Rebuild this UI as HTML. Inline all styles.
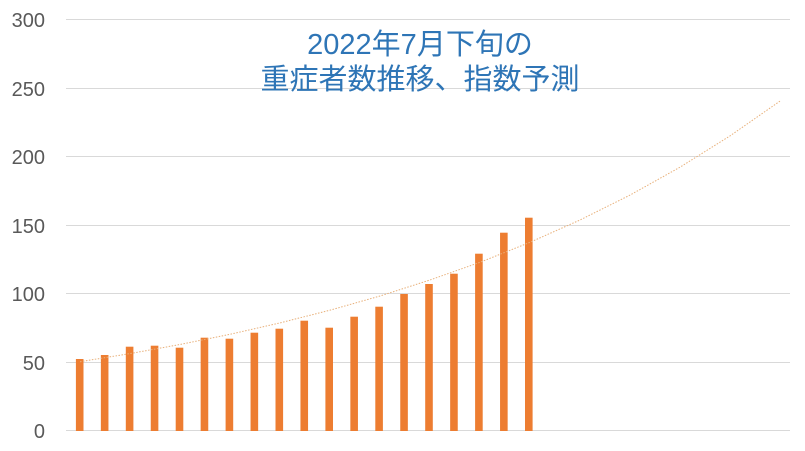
<!DOCTYPE html>
<html><head><meta charset="utf-8"><style>
body{margin:0;background:#fff;}
svg{display:block;}
</style></head><body>
<svg width="805" height="451" xmlns="http://www.w3.org/2000/svg">
<g stroke="#d9d9d9" stroke-width="1">
<line x1="66" y1="19.5" x2="790" y2="19.5"/>
<line x1="66" y1="88.5" x2="790" y2="88.5"/>
<line x1="66" y1="156.5" x2="790" y2="156.5"/>
<line x1="66" y1="225.5" x2="790" y2="225.5"/>
<line x1="66" y1="293.5" x2="790" y2="293.5"/>
<line x1="66" y1="362.5" x2="790" y2="362.5"/>
<line x1="66" y1="430.5" x2="790" y2="430.5"/>
</g>
<g font-family="Liberation Sans, sans-serif" font-size="20" fill="#595959" text-anchor="end">
<text x="45" y="27">300</text>
<text x="45" y="96">250</text>
<text x="45" y="164">200</text>
<text x="45" y="233">150</text>
<text x="45" y="301">100</text>
<text x="45" y="370">50</text>
<text x="45" y="438">0</text>
</g>
<g fill="#ed7d31">
<rect x="75.9" y="359.0" width="7.6" height="72.0"/>
<rect x="100.85" y="355.0" width="7.6" height="76.0"/>
<rect x="125.8" y="346.7" width="7.6" height="84.3"/>
<rect x="150.75" y="345.7" width="7.6" height="85.3"/>
<rect x="175.7" y="347.7" width="7.6" height="83.3"/>
<rect x="200.65" y="337.7" width="7.6" height="93.3"/>
<rect x="225.6" y="338.7" width="7.6" height="92.3"/>
<rect x="250.55" y="332.7" width="7.6" height="98.3"/>
<rect x="275.5" y="328.7" width="7.6" height="102.3"/>
<rect x="300.45" y="320.7" width="7.6" height="110.3"/>
<rect x="325.4" y="327.7" width="7.6" height="103.3"/>
<rect x="350.35" y="316.7" width="7.6" height="114.3"/>
<rect x="375.3" y="306.7" width="7.6" height="124.3"/>
<rect x="400.25" y="294.0" width="7.6" height="137.0"/>
<rect x="425.2" y="284.0" width="7.6" height="147.0"/>
<rect x="450.15" y="273.7" width="7.6" height="157.3"/>
<rect x="475.1" y="253.7" width="7.6" height="177.3"/>
<rect x="500.05" y="232.7" width="7.6" height="198.3"/>
<rect x="525.0" y="217.7" width="7.6" height="213.3"/>
</g>
<polyline fill="none" stroke="#e8b07a" stroke-width="1" stroke-dasharray="1.5,1.5" points="80,361.7 130,353.6 180,344.5 230,334.3 280,322.9 330,310.2 380,296.0 430,280.0 480,262.3 530,242.3 580,220.0 630,195.1 680,167.2 730,135.9 780,101.1"/>
<g font-family="Liberation Sans, 'Noto Sans CJK JP', sans-serif" font-size="29" fill="#2e75b6" text-anchor="middle">
<text x="420" y="54">2022年7月下旬の</text>
<text x="420" y="89">重症者数推移、指数予測</text>
</g>
</svg>
</body></html>
